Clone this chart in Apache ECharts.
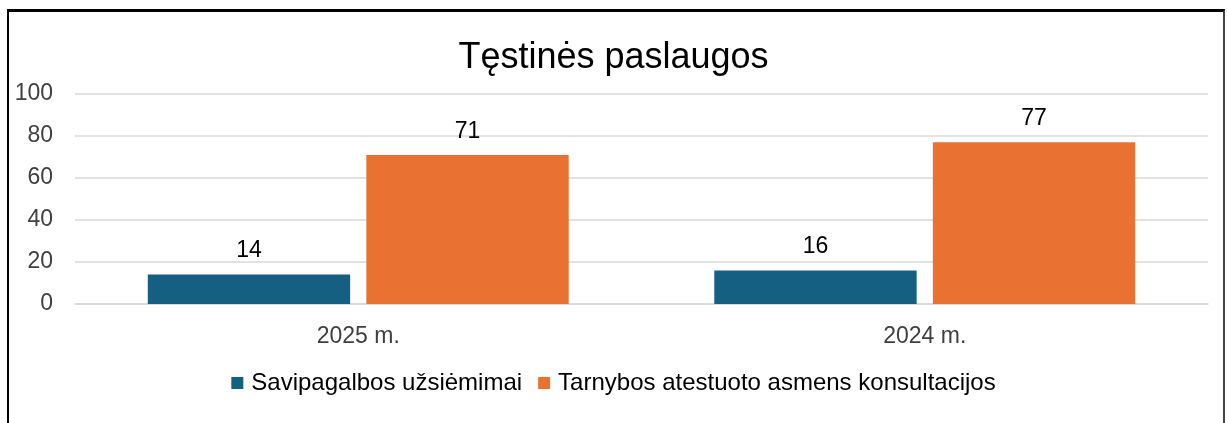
<!DOCTYPE html>
<html>
<head>
<meta charset="utf-8">
<script src="https://cdn.jsdelivr.net/npm/echarts@6/dist/echarts.min.js"></script>
<style>
  html, body { margin: 0; padding: 0; background: #fff; }
  #chart { position: absolute; left: 0; top: 0; width: 1227px; height: 423px; }
  #frame {
    position: absolute; left: 7px; top: 9px; width: 1214px; height: 430px;
    border-left: 2px solid #000; border-top: 3px solid #000; border-right: 2px solid #444;
    pointer-events: none;
  }
</style>
</head>
<body>
<div id="chart"></div>
<div id="frame"></div>
<script>
const categories = ['2025 m.', '2024 m.'];
const selfHelp = [14, 16];
const consultations = [71, 77];
const seriesNames = ['Savipagalbos užsiėmimai', 'Tarnybos atestuoto asmens konsultacijos'];

const myChart = echarts.init(document.getElementById('chart'));
const font = 'Liberation Sans, Arial, sans-serif';
const colors = ['#156082', '#E97132'];

const barLabel = { show: true, position: 'top', distance: 12, fontFamily: font, fontSize: 23, color: '#000' };

const option = {
  color: colors,
  animation: false,
  title: {
    text: 'Tęstinės paslaugos',
    left: 'center',
    top: 35,
    textStyle: { fontFamily: font, fontSize: 36, fontWeight: 'normal', color: '#000' }
  },
  legend: {
    data: seriesNames,
    top: 366,
    left: 'center',
    itemWidth: 12,
    itemHeight: 12,
    itemGap: 16,
    icon: 'rect',
    textStyle: { fontFamily: font, fontSize: 24, color: '#000', padding: [0, 0, 0, 3] }
  },
  grid: { left: 75, right: 19, top: 94, bottom: 119 },
  xAxis: {
    type: 'category',
    data: categories,
    axisTick: { show: false },
    axisLine: { lineStyle: { color: '#d9d9d9', width: 1.5 } },
    axisLabel: { fontFamily: font, fontSize: 23, color: '#404040', margin: 21 }
  },
  yAxis: {
    type: 'value',
    min: 0,
    max: 100,
    interval: 20,
    axisLine: { show: false },
    axisTick: { show: false },
    axisLabel: { fontFamily: font, fontSize: 23, color: '#404040', margin: 22 },
    splitLine: { lineStyle: { color: '#d9d9d9', width: 1.5 } }
  },
  series: [{
    name: seriesNames[0],
    type: 'bar',
    data: selfHelp,
    barGap: '8%',
    barCategoryGap: '25.7%',
    label: barLabel
  }, {
    name: seriesNames[1],
    type: 'bar',
    data: consultations,
    barGap: '8%',
    barCategoryGap: '25.7%',
    label: barLabel
  }]
};

myChart.setOption(option);
</script>
</body>
</html>
